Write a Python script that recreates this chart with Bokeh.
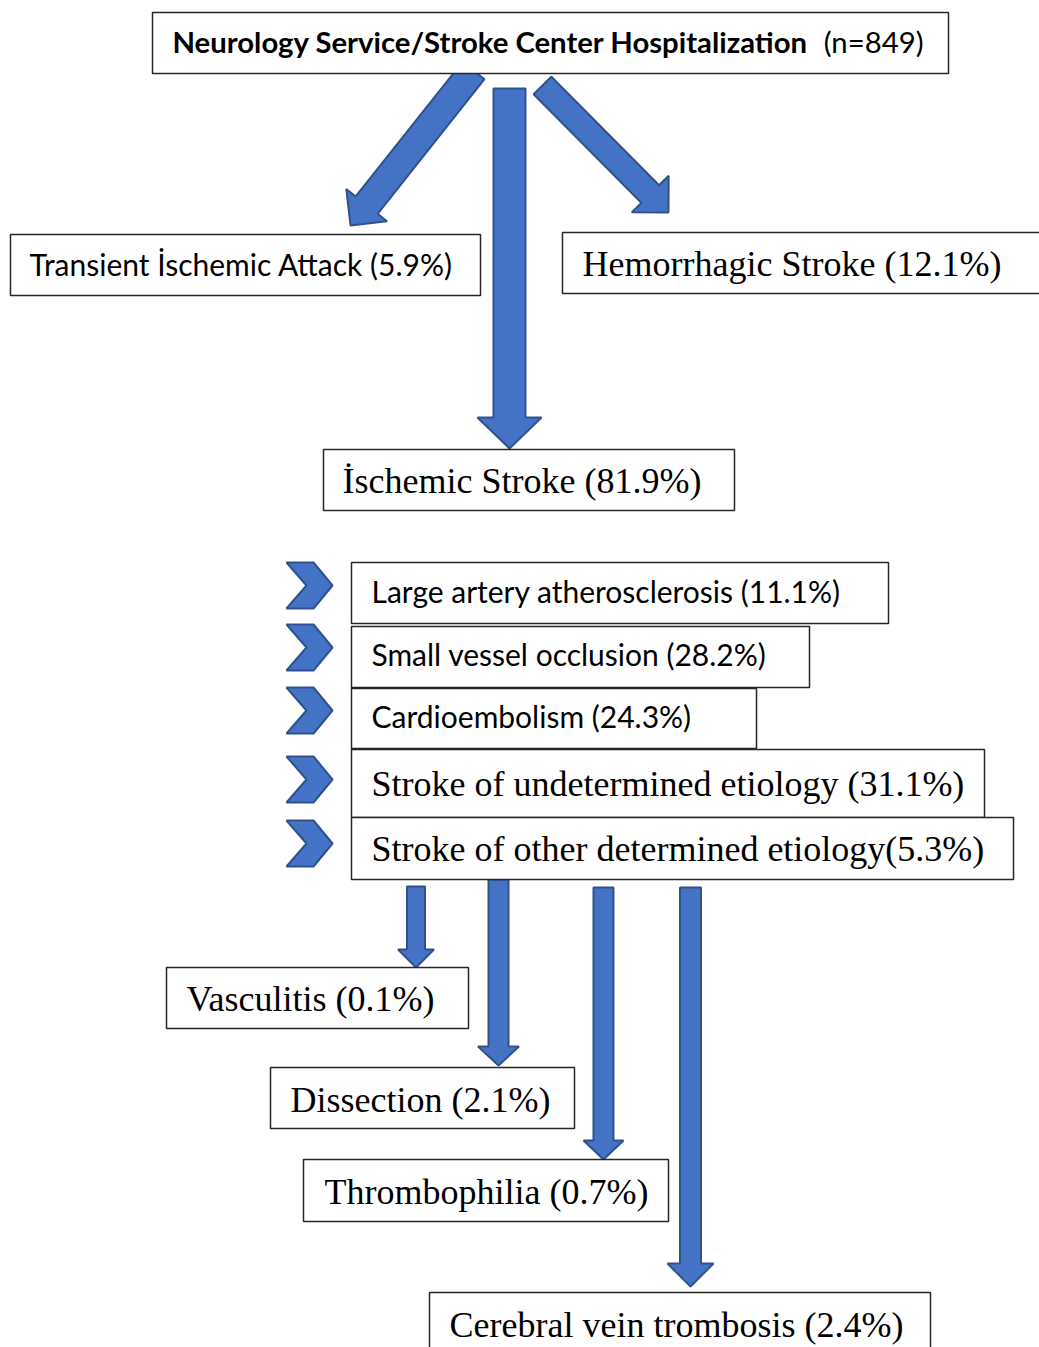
import math
from bokeh.plotting import figure
from bokeh.models import Range1d
from bokeh.core.properties import value
from bokeh.embed import file_html
from bokeh.resources import INLINE

# ---------------- data ----------------
top_label = "Neurology Service/Stroke Center Hospitalization"
n_total = 849

main_types = ["Transient İschemic Attack", "Hemorrhagic Stroke", "İschemic Stroke"]
main_pct = [5.9, 12.1, 81.9]

toast_types = ["Large artery atherosclerosis", "Small vessel occlusion", "Cardioembolism",
               "Stroke of undetermined etiology", "Stroke of other determined etiology"]
toast_pct = [11.1, 28.2, 24.3, 31.1, 5.3]
toast_sep = [" ", " ", " ", " ", ""]

other_types = ["Vasculitis", "Dissection", "Thrombophilia", "Cerebral vein trombosis"]
other_pct = [0.1, 2.1, 0.7, 2.4]

# ---------------- layout (page pixel coordinates) ----------------
# boxes: left, top, right, bottom
top_box = (152, 12, 948, 73)
main_boxes = [(10, 234, 480, 295), (562, 232, 1045, 293), (323, 449, 734, 510)]
toast_boxes = [(351, 562, 888, 623), (351, 626, 809, 687), (351, 688, 756, 748),
               (351, 749, 984, 817), (351, 817, 1013, 879)]
other_boxes = [(166, 967, 468, 1028), (270, 1067, 574, 1128), (303, 1159, 668, 1221),
               (429, 1292, 930, 1360)]

# text anchors: left x and baseline y
top_text_base = 53
main_text_x = [29, 582, 342]
main_text_base = [275, 275, 492]
main_serif = [False, True, True]
toast_text_x = [371] * 5
toast_text_base = [602, 665, 727, 795, 860]
toast_serif = [False, False, False, True, True]
other_text_x = [186, 290, 324, 449]
other_text_base = [1010, 1111, 1203, 1336]
BASE_FIX = -12  # renderer places alphabetic text a little low

# arrows: tail x, tail y, tip x, tip y, shaft half width, head half width, head length
arrows = [
    (473, 70, 350, 225, 14, 26, 26),
    (509, 88, 509, 448, 16, 32, 31),
    (542, 85, 668, 212, 12.5, 26, 26),
    (415.5, 886, 415.5, 967, 9, 18, 18),
    (498, 879, 498, 1065, 10, 20.5, 19),
    (603, 887, 603, 1159, 10, 20, 19),
    (690, 887, 690, 1286, 10.5, 23, 23),
]
chevron_y = [585, 647, 710, 779, 843]
chev_left, chev_tip, chev_h, chev_thick, chev_notch = 286, 332, 46, 27, 20

SANS = "Lato"
SERIF = "Liberation Serif"
TOP_SIZE = "29.3px"
SANS_SIZE = "30px"
SERIF_SIZE = "36px"
BLUE = "#4472C4"
BLUE_EDGE = "#2F528F"

# ---------------- figure ----------------
W, H = 1039, 1347
p = figure(width=W, height=H, x_range=Range1d(0, W), y_range=Range1d(H, 0),
           x_axis_type=None, y_axis_type=None, toolbar_location=None,
           output_backend="svg", min_border=0)
p.outline_line_color = None
p.background_fill_color = "white"
p.grid.visible = False


def arrow_poly(x0, y0, x1, y1, sw, hw, hl):
    L = math.hypot(x1 - x0, y1 - y0)
    dx, dy = (x1 - x0) / L, (y1 - y0) / L
    nx, ny = -dy, dx
    bx, by = x1 - dx * hl, y1 - dy * hl
    xs = [x0 + nx * sw, bx + nx * sw, bx + nx * hw, x1, bx - nx * hw, bx - nx * sw, x0 - nx * sw]
    ys = [y0 + ny * sw, by + ny * sw, by + ny * hw, y1, by - ny * hw, by - ny * sw, y0 - ny * sw]
    return xs, ys


axs, ays = [], []
for a in arrows:
    xs, ys = arrow_poly(*a)
    axs.append(xs)
    ays.append(ys)
p.patches(axs, ays, fill_color=BLUE, line_color=BLUE_EDGE, line_width=2)

# chevrons
cxs, cys = [], []
for yc in chevron_y:
    cxs.append([chev_left, chev_left + chev_thick, chev_tip, chev_left + chev_thick, chev_left,
                chev_left + chev_notch])
    cys.append([yc - chev_h / 2, yc - chev_h / 2, yc, yc + chev_h / 2, yc + chev_h / 2, yc])
p.patches(cxs, cys, fill_color=BLUE, line_color=BLUE_EDGE, line_width=2)

# boxes
all_boxes = [top_box] + main_boxes + toast_boxes + other_boxes
p.quad(left=[b[0] for b in all_boxes], right=[b[2] for b in all_boxes],
       top=[b[1] for b in all_boxes], bottom=[b[3] for b in all_boxes],
       fill_color="white", line_color="#262626", line_width=1.5)

# top text
p.text(x=[top_box[0] + 20], y=[top_text_base + BASE_FIX], text=[top_label], text_font=value(SANS),
       text_font_size=TOP_SIZE, text_font_style="bold", text_baseline="alphabetic",
       text_align="left", text_color="black")
p.text(x=[top_box[2] - 25], y=[top_text_base + BASE_FIX], text=[f"(n={n_total})"],
       text_font=value(SANS), text_font_size=TOP_SIZE, text_baseline="alphabetic",
       text_align="right", text_color="black")


def put(xs, ys, texts, serif_flags):
    for x, y, t, s in zip(xs, ys, texts, serif_flags):
        p.text(x=[x], y=[y + BASE_FIX], text=[t], text_font=value(SERIF if s else SANS),
               text_font_size=SERIF_SIZE if s else SANS_SIZE, text_baseline="alphabetic",
               text_align="left", text_color="black")


put(main_text_x, main_text_base,
    [f"{t} ({v:.1f}%)" for t, v in zip(main_types, main_pct)], main_serif)
put(toast_text_x, toast_text_base,
    [f"{t}{s}({v:.1f}%)" for t, s, v in zip(toast_types, toast_sep, toast_pct)], toast_serif)
put(other_text_x, other_text_base,
    [f"{t} ({v:.1f}%)" for t, v in zip(other_types, other_pct)], [True] * 4)

open("out.html", "w").write(file_html(p, INLINE))
